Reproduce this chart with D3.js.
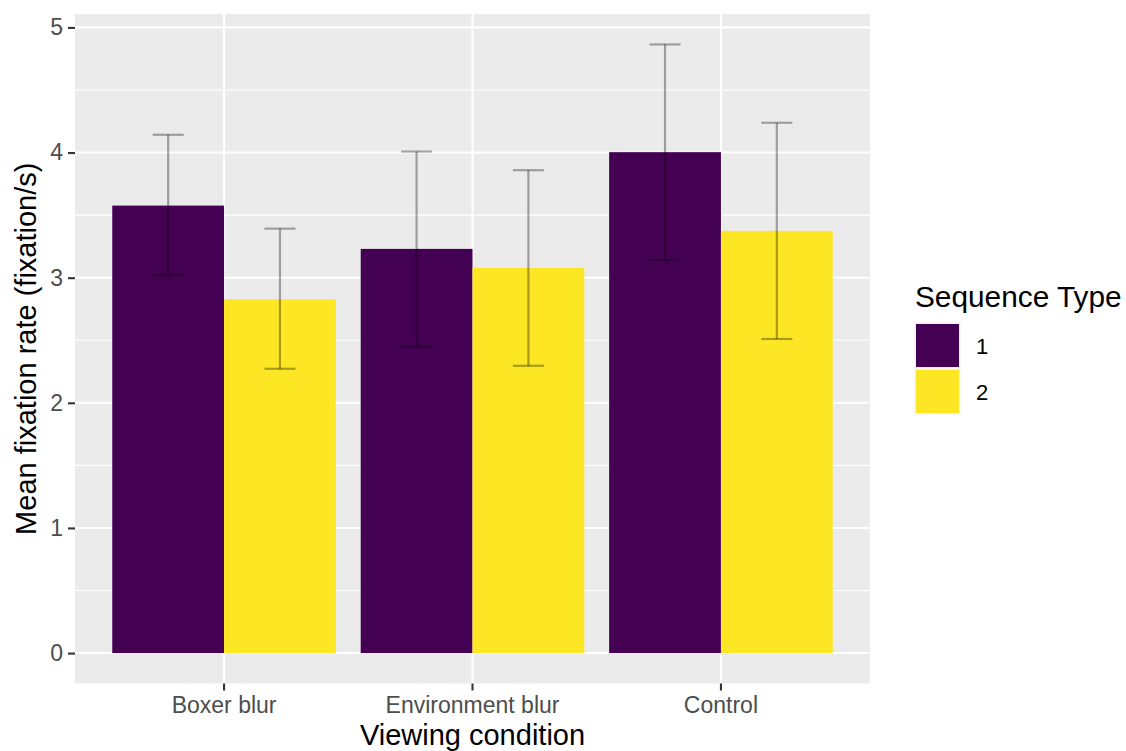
<!DOCTYPE html>
<html>
<head>
<meta charset="utf-8">
<script src="https://cdn.jsdelivr.net/npm/d3@7"></script>
<style>
  html, body { margin: 0; padding: 0; background: #ffffff; }
  svg { display: block; font-family: "Liberation Sans", Arial, sans-serif; }
</style>
</head>
<body>
<svg id="chart" width="1126" height="751"></svg>
<script>
// ---- Data ----
const conditions = ["Boxer blur", "Environment blur", "Control"];
const sequenceTypes = ["1", "2"];
const meanType1 = [3.576, 3.230, 4.003];
const meanType2 = [2.827, 3.078, 3.374];
const upperType1 = [4.142, 4.008, 4.864];
const lowerType1 = [3.019, 2.446, 3.139];
const upperType2 = [3.392, 3.859, 4.238];
const lowerType2 = [2.272, 2.296, 2.510];
const yTicks = [0, 1, 2, 3, 4, 5];
const yMinorTicks = [0.5, 1.5, 2.5, 3.5, 4.5];
const xTitle = "Viewing condition";
const yTitle = "Mean fixation rate (fixation/s)";
const legendTitle = "Sequence Type";
const colors = ["#440154", "#FDE725"];

// Build table
const rows = [];
conditions.forEach((c, i) => {
  rows.push({cond: c, type: "1", mean: meanType1[i], lo: lowerType1[i], hi: upperType1[i]});
  rows.push({cond: c, type: "2", mean: meanType2[i], lo: lowerType2[i], hi: upperType2[i]});
});

// ---- Layout ----
const panel = {left: 75, right: 870, top: 14, bottom: 683.5};
const svg = d3.select("#chart");
svg.append("rect").attr("width", 1126).attr("height", 751).attr("fill", "#ffffff");

const dataMax = d3.max(rows, d => d.hi);
const dataMin = 0;
const pad = (dataMax - dataMin) * 0.05;
const y = d3.scaleLinear().domain([dataMin - pad, dataMax + pad]).range([panel.bottom, panel.top]);

const x0 = d3.scaleBand().domain(conditions).range([panel.left, panel.right]).paddingInner(0).paddingOuter(0.1);
const x1 = d3.scaleBand().domain(sequenceTypes).range([0, x0.bandwidth()]).paddingInner(0).paddingOuter(0.1111);
const color = d3.scaleOrdinal().domain(sequenceTypes).range(colors);

// Panel background
svg.append("rect")
  .attr("x", panel.left).attr("y", panel.top)
  .attr("width", panel.right - panel.left).attr("height", panel.bottom - panel.top)
  .attr("fill", "#EBEBEB");

// Grid
const grid = svg.append("g");
grid.selectAll("line.minor").data(yMinorTicks).join("line")
  .attr("x1", panel.left).attr("x2", panel.right)
  .attr("y1", d => y(d)).attr("y2", d => y(d))
  .attr("stroke", "#ffffff").attr("stroke-width", 1.1);
grid.selectAll("line.major").data(yTicks).join("line")
  .attr("x1", panel.left).attr("x2", panel.right)
  .attr("y1", d => y(d)).attr("y2", d => y(d))
  .attr("stroke", "#ffffff").attr("stroke-width", 2.1);
grid.selectAll("line.vmajor").data(conditions).join("line")
  .attr("x1", d => x0(d) + x0.bandwidth() / 2).attr("x2", d => x0(d) + x0.bandwidth() / 2)
  .attr("y1", panel.top).attr("y2", panel.bottom)
  .attr("stroke", "#ffffff").attr("stroke-width", 2.1);

// Bars
svg.append("g").selectAll("rect").data(rows).join("rect")
  .attr("x", d => x0(d.cond) + x1(d.type))
  .attr("width", x1.bandwidth())
  .attr("y", d => y(d.mean))
  .attr("height", d => y(0) - y(d.mean))
  .attr("fill", d => color(d.type));

// Error bars
const capHalf = x0.step() * 0.0625;
const eb = svg.append("g").attr("stroke", "#000000").attr("stroke-opacity", 0.33).attr("stroke-width", 2.2);
rows.forEach(d => {
  const cx = x0(d.cond) + x1(d.type) + x1.bandwidth() / 2;
  eb.append("line").attr("x1", cx).attr("x2", cx).attr("y1", y(d.hi)).attr("y2", y(d.lo));
  eb.append("line").attr("x1", cx - capHalf).attr("x2", cx + capHalf).attr("y1", y(d.hi)).attr("y2", y(d.hi));
  eb.append("line").attr("x1", cx - capHalf).attr("x2", cx + capHalf).attr("y1", y(d.lo)).attr("y2", y(d.lo));
});

// Y axis
const yAxis = svg.append("g").attr("transform", `translate(${panel.left},0)`)
  .call(d3.axisLeft(y).tickValues(yTicks).tickSize(7).tickPadding(5).tickFormat(d3.format("d")));
yAxis.select(".domain").remove();
yAxis.selectAll(".tick line").attr("stroke", "#333333").attr("stroke-width", 2.1);
yAxis.selectAll(".tick text").attr("fill", "#4D4D4D").attr("font-size", 23)
  .attr("font-family", "Liberation Sans, Arial, sans-serif");

// X axis
const xAxis = svg.append("g").attr("transform", `translate(0,${panel.bottom})`)
  .call(d3.axisBottom(x0).tickSize(7).tickPadding(4));
xAxis.select(".domain").remove();
xAxis.selectAll(".tick line").attr("stroke", "#333333").attr("stroke-width", 2.1);
xAxis.selectAll(".tick text").attr("fill", "#4D4D4D").attr("font-size", 23)
  .attr("font-family", "Liberation Sans, Arial, sans-serif")
  .attr("dy", null).attr("y", 29.5);

// Axis titles
svg.append("text").attr("x", (panel.left + panel.right) / 2).attr("y", 745)
  .attr("text-anchor", "middle").attr("font-size", 29).attr("fill", "#000000").text(xTitle);
svg.append("text").attr("transform", `translate(36,${(panel.top + panel.bottom) / 2}) rotate(-90)`)
  .attr("text-anchor", "middle").attr("font-size", 29).attr("fill", "#000000").text(yTitle);

// Legend
const lg = svg.append("g");
lg.append("text").attr("x", 915).attr("y", 307).attr("font-size", 29.8).attr("fill", "#000000").text(legendTitle);
const keySize = 46;
sequenceTypes.forEach((t, i) => {
  const ky = 322.5 + i * keySize;
  lg.append("rect").attr("x", 914.5).attr("y", ky).attr("width", keySize).attr("height", keySize).attr("fill", "#F2F2F2");
  lg.append("rect").attr("x", 916).attr("y", ky + 1.5).attr("width", keySize - 3).attr("height", keySize - 3).attr("fill", color(t));
  lg.append("text").attr("x", 976).attr("y", ky + keySize / 2 + 8).attr("font-size", 22).attr("fill", "#000000").text(t);
});
</script>
</body>
</html>
